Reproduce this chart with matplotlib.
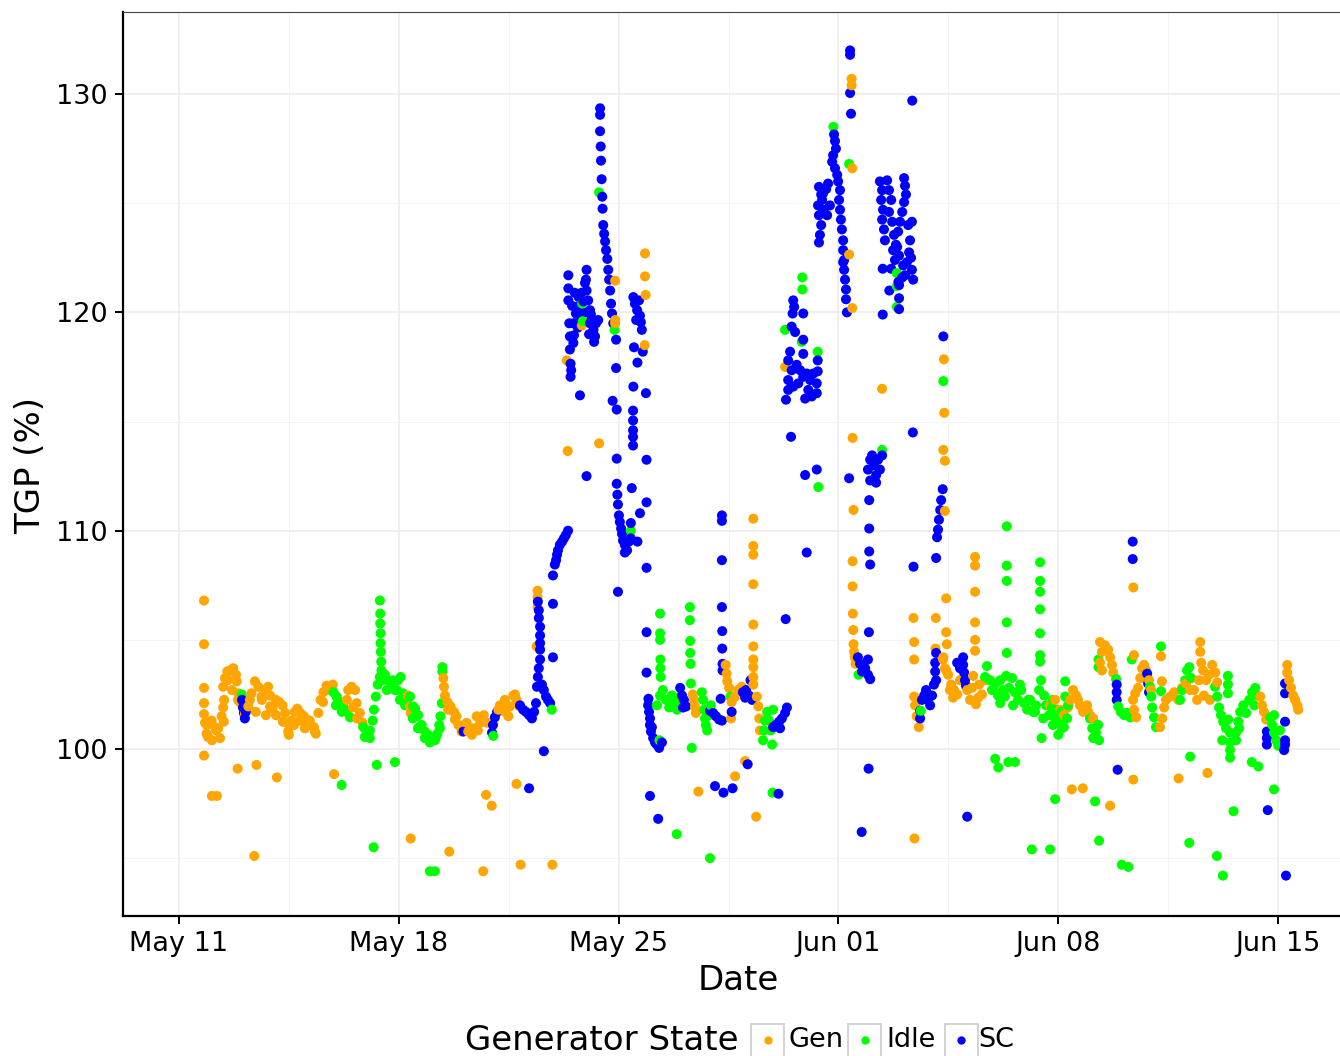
import numpy as np
import matplotlib
matplotlib.use("Agg")
import matplotlib.pyplot as plt
from matplotlib.patches import Rectangle
from matplotlib.lines import Line2D

# ---------------- data (days after May 11, TGP %) ----------------
states = ["Gen", "Idle", "SC"]
state_colors = ["#FFA500", "#00FF00", "#0000FF"]
date_ticks = [0, 7, 14, 21, 28, 35]
date_labels = ["May 11", "May 18", "May 25", "Jun 01", "Jun 08", "Jun 15"]
date_minor = [3.5, 10.5, 17.5, 24.5, 31.5]
tgp_ticks = [100, 110, 120, 130]
tgp_minor = [95, 105, 115, 125]

gen_day = [
    0.8, 0.8, 0.8, 0.8, 0.8, 0.8,
    0.83, 0.88, 0.93, 1.04, 1.15, 1.25, 1.36, 1.41, 1.44, 1.41, 1.47, 1.54, 1.62, 1.73, 1.82, 1.84, 1.89, 1.94,
    2.10, 2.21, 2.31, 2.42, 2.53, 2.63, 2.74, 2.84, 2.90, 2.98, 3.09, 3.19, 3.30, 3.38, 3.43, 3.48,
    3.59, 3.69, 3.77, 3.87, 3.98, 4.09, 4.19, 4.30, 4.36, 4.44, 4.51, 4.60, 4.70, 4.81,
    5.39, 5.50, 5.61, 5.66, 5.76, 5.85, 7.30, 7.36, 7.38,
    1.05, 1.21, 1.87, 2.47, 3.12, 2.40, 4.94, 7.38,
    8.42, 8.44, 8.47, 8.55, 8.65, 8.76, 8.84, 8.90, 9.0, 9.16, 9.21, 9.37, 9.48, 9.59, 9.71, 9.82,
    10.17, 10.28, 10.38, 10.49, 10.54, 10.65, 10.75, 10.84, 11.42, 11.42, 11.42, 11.39,
    8.61, 9.78, 9.96, 10.75, 9.69, 10.88, 11.89,
    12.35, 12.38, 13.38, 12.83, 13.89, 13.89, 13.89, 14.84, 14.84, 14.86, 14.83,
    16.36, 16.40, 16.43, 16.46, 17.41, 17.44, 17.46, 17.52, 17.55, 17.60, 17.58, 17.71, 17.81, 17.92,
    18.29, 18.29, 18.29, 18.29, 18.29, 18.29, 18.29, 18.29, 18.29, 18.29, 18.4, 18.45, 18.48, 18.5,
    18.03, 17.71, 16.54, 18.38,
    21.42, 21.42, 21.44, 21.34, 21.44, 19.3, 22.39, 21.45, 21.48, 24.36, 24.37, 24.34, 24.39, 24.39,
    21.45, 21.45, 21.46, 21.47, 21.48, 21.5, 21.52, 21.55,
    23.39, 23.41, 23.41, 23.41, 23.44, 23.49, 23.56, 24.1, 24.09, 24.43, 24.43, 24.45,
    24.34, 24.39, 24.49, 24.59, 24.68, 24.78, 24.87, 25.1, 25.19, 25.29, 25.38, 25.48, 25.57, 25.67,
    25.35, 25.35, 25.35, 25.35, 25.35, 25.35,
    23.42,
    27.74, 27.9, 28.06, 28.18,
    28.38, 28.47, 28.57, 28.69, 28.79, 28.92, 29.01, 29.11,
    29.33, 29.39, 29.33, 29.39, 29.49, 29.59, 29.65, 29.71, 29.75,
    30.38, 30.41, 30.48, 30.45, 30.54, 30.61, 30.67, 30.73, 30.8, 30.89, 30.96, 30.41,
    31.24, 31.31, 31.37, 31.43, 31.27, 31.3,
    31.56, 31.69, 31.82, 31.94, 32.07, 32.2,
    32.32, 32.42, 32.48, 32.52, 32.52, 32.55, 32.61, 32.71, 32.8, 32.9, 33.0, 33.06, 32.64, 32.83,
    34.43, 34.49, 34.55, 34.62,
    35.29, 35.29, 35.35, 35.41, 35.48, 35.54, 35.61, 35.64,
    30.39, 30.39, 31.83, 32.75, 28.43, 28.78, 29.65,
    0.89, 1.05, 1.18, 1.31, 1.43, 1.56, 1.69, 1.88, 2.26, 2.45, 2.64, 2.77, 2.9, 3.09, 3.31, 3.5,
    3.66, 3.85, 4.01, 4.17, 4.33, 4.59, 4.71, 4.9, 5.35, 5.54, 5.67,
    8.57, 8.79, 9.01, 9.33, 9.52, 9.71, 10.22, 10.38, 10.7,
    24.33, 24.43, 24.55, 24.65, 25.25, 25.45, 28.31, 28.63, 28.95,
]
gen_tgp = [
    106.8, 104.8, 102.8, 102.1, 101.6, 99.7,
    101.2, 100.7, 100.55, 101.3, 101.0, 100.95, 101.5, 101.9, 102.25, 102.85, 103.25, 103.55, 103.6, 103.7, 103.4, 103.1, 102.55, 102.15,
    101.6, 101.95, 102.55, 103.1, 102.85, 102.4, 102.7, 102.85, 102.45, 101.85, 102.25, 102.15, 102.0, 101.65, 101.2, 100.8,
    101.3, 101.7, 101.85, 101.65, 101.5, 101.25, 101.1, 101.0, 100.7, 101.65, 102.25, 102.6, 102.9, 102.8,
    102.7, 102.85, 102.7, 102.1, 101.65, 101.2, 102.45, 101.95, 101.65,
    97.85, 97.85, 99.1, 99.27, 98.7, 95.1, 98.85, 95.9,
    103.25, 102.85, 102.45, 102.15, 101.95, 101.7, 101.5, 101.1, 100.8, 101.2, 100.8, 100.95, 101.5, 101.2, 101.55, 101.2,
    101.8, 101.95, 101.7, 101.5, 101.95, 102.45, 102.25, 101.95, 107.25, 106.95, 106.5, 104.7,
    95.3, 97.9, 97.4, 98.4, 94.4, 94.7, 94.7,
    117.8, 113.65, 114.0, 119.4, 121.45, 119.65, 119.5, 122.7, 121.65, 120.8, 118.5,
    102.5, 102.25, 101.95, 101.65, 103.85, 103.45, 103.1, 102.8, 102.4, 102.15, 101.4, 102.4, 102.7, 102.85,
    110.55, 109.3, 108.9, 107.55, 105.7, 104.7, 104.1, 103.75, 103.3, 102.95, 102.4, 101.95, 101.4, 100.85,
    99.45, 98.75, 98.05, 96.9,
    130.7, 130.4, 126.6, 122.65, 120.2, 117.5, 116.5, 114.25, 110.95, 117.85, 115.4, 113.7, 113.2, 110.9,
    108.6, 107.45, 106.2, 105.45, 104.8, 104.45, 104.2, 103.9,
    106.0, 104.9, 104.1, 102.4, 102.0, 101.5, 101.0, 106.0, 104.6, 106.9, 105.35, 104.8,
    104.2, 103.7, 103.4, 102.95, 102.7, 102.5, 103.15, 102.7, 102.25, 103.35, 102.05, 102.95, 102.5, 103.15,
    108.8, 108.4, 107.2, 105.8, 105.0, 104.5,
    95.9,
    102.0, 102.25, 101.8, 101.55,
    102.25, 102.7, 102.45, 102.0, 101.7, 102.0, 101.55, 101.4,
    104.9, 104.45, 103.95, 103.6, 104.75, 104.55, 104.2, 103.85, 103.5,
    102.25, 101.8, 101.45, 102.55, 102.8, 103.25, 103.7, 103.85, 103.6, 103.15, 102.7, 104.3,
    101.0, 101.4, 101.9, 102.25, 104.25, 103.1,
    102.4, 102.6, 102.25, 102.8, 103.0, 102.7,
    102.7, 102.25, 103.15, 104.9, 104.45, 103.95, 103.6, 103.15, 103.4, 103.85, 103.5, 103.05, 102.45, 102.25,
    102.4, 102.0, 101.7, 101.35,
    103.85, 103.5, 103.15, 102.8, 102.45, 102.25, 102.0, 101.8,
    107.4, 98.6, 98.65, 98.9, 98.15, 98.2, 97.4,
    101.1, 100.4, 100.85, 100.5, 101.25, 103.15, 102.7, 102.25, 102.25, 101.7, 102.25, 101.55, 101.95, 101.55, 101.25, 100.65,
    101.1, 101.3, 100.95, 101.3, 100.8, 102.15, 102.7, 102.95, 102.25, 101.9, 101.4,
    101.8, 101.35, 100.95, 100.65, 100.85, 101.25, 102.0, 102.25, 102.5,
    104.1, 103.6, 102.7, 102.35, 102.8, 102.35, 101.9, 102.25, 101.7,
]

idle_day = [
    2.0, 4.92, 5.02, 5.13, 5.23, 5.34, 5.87, 5.98, 6.08, 6.17, 6.21, 6.27, 6.33, 6.4,
    6.4, 6.41, 6.41, 6.42, 6.42, 6.43, 6.44, 6.45,
    6.56, 6.67, 6.77, 6.88, 6.98, 7.06, 7.14, 7.25, 7.46, 7.57, 7.65,
    5.18, 6.3, 6.88, 6.2,
    7.36, 7.52, 7.62, 7.73, 7.83, 7.94, 8.05, 8.15, 8.23, 8.29, 8.33, 8.37, 8.39, 8.39,
    10.01, 11.87, 7.99, 8.15,
    13.38, 12.84, 12.86, 13.87, 14.39,
    15.32, 15.32, 15.32, 15.33, 15.33, 15.34,
    15.3, 15.22, 15.32, 15.41, 15.51, 15.61, 15.7, 15.8, 15.86, 15.96,
    16.27, 16.27, 16.28, 16.28, 16.29, 16.3,
    16.65, 16.69, 16.72, 16.75, 16.78, 16.82, 16.88, 16.94, 17.58,
    18.6, 18.63, 18.66, 18.73, 18.79, 18.85, 18.89, 18.92, 16.33,
    18.9, 15.85, 16.91,
    20.84, 21.34, 19.85, 19.85, 19.3, 20.34, 20.36, 22.86, 22.86, 22.86, 22.39, 24.34, 19.83,
    21.64, 23.62,
    25.73, 25.83, 25.89, 25.99, 26.08, 26.15, 26.24, 26.34, 26.43, 26.53, 26.62, 26.72, 26.82, 26.91,
    27.01, 27.1, 27.2, 27.29, 27.39, 27.45, 27.55, 27.61, 27.71, 27.8, 27.9, 28.0, 28.09,
    26.36, 26.36, 26.36, 26.36, 26.36,
    27.42, 27.42, 27.42, 27.42, 27.42, 27.42, 27.42,
    27.47, 25.99, 26.09, 26.41, 26.62, 27.9, 27.16, 27.74,
    27.83, 27.96, 28.09, 28.18, 28.28, 28.31, 28.22, 28.22,
    29.01, 29.08, 29.11, 29.2, 29.27, 29.3, 29.28, 29.28, 29.84,
    29.91, 29.99, 30.1, 30.19, 30.29, 30.34,
    30.92, 30.96, 30.99, 31.05, 31.11, 31.27, 31.27,
    31.88, 31.94, 32.04, 32.1, 32.17, 32.23,
    32.99, 33.06, 33.12, 33.18, 33.25, 33.34, 33.41, 33.4, 33.4, 33.4,
    33.47, 33.47, 33.47, 33.47,
    33.66, 33.73, 33.79, 33.89, 33.98, 34.08, 34.17, 34.27, 34.33, 34.24,
    34.75, 34.81, 34.87, 34.94, 35.0, 35.06, 34.87,
    32.2, 34.16, 34.37, 29.17, 34.87, 33.58, 29.3, 30.02, 30.23, 32.17, 33.05, 33.24,
    5.0, 5.19, 5.45, 5.92, 6.08, 6.5, 6.62, 6.82, 6.94, 7.04,
    7.2, 7.45, 7.61, 7.83, 7.99, 8.18, 8.31,
    25.67, 25.92, 26.15, 26.3, 26.56, 26.78, 27.04, 27.26, 27.52, 27.83, 28.0, 28.12,
    33.22, 33.66, 33.76,
]
idle_tgp = [
    102.5, 102.6, 102.4, 102.15, 101.95, 101.7, 101.0, 100.8, 100.85, 101.3, 101.8, 102.4, 102.95, 103.3,
    106.8, 106.2, 105.75, 105.3, 104.85, 104.45, 104.0, 103.6,
    103.4, 103.15, 102.95, 102.7, 103.15, 103.3, 102.55, 102.1, 101.95, 101.5, 101.0,
    98.35, 99.27, 99.4, 95.5,
    102.4, 101.85, 101.55, 101.1, 100.8, 100.65, 100.4, 100.4, 100.7, 101.1, 101.5, 102.1, 103.75, 103.55,
    100.6, 101.8, 94.4, 94.4,
    125.5, 120.4, 119.6, 119.2, 110.0,
    106.2, 105.3, 105.0, 104.1, 103.7, 103.3,
    100.4, 102.0, 102.45, 102.7, 102.25, 101.9, 102.45, 102.1, 101.8, 102.4,
    106.5, 105.9, 104.95, 104.4, 103.9, 103.0,
    102.6, 102.25, 101.8, 101.4, 101.1, 100.85, 101.55, 102.0, 102.4,
    100.4, 100.85, 101.3, 101.7, 101.3, 100.85, 100.2, 101.8, 100.05,
    98.0, 96.1, 95.0,
    128.5, 126.8, 121.6, 121.05, 119.2, 118.2, 112.0, 121.8, 121.2, 120.25, 113.7, 116.85, 118.65,
    103.4, 101.75,
    103.8, 103.15, 102.7, 103.0, 102.45, 102.1, 102.7, 103.35, 102.8, 103.25, 102.6, 102.25, 102.7, 102.1,
    101.8, 102.25, 101.7, 102.0, 102.7, 103.15, 102.45, 102.0, 101.55, 101.9, 101.4, 101.3, 101.7,
    110.2, 108.4, 107.7, 105.8, 104.4,
    108.55, 107.7, 107.2, 106.4, 105.3, 104.3, 104.0,
    100.5, 99.55, 99.15, 99.4, 99.4, 97.7, 95.4, 95.4,
    102.25, 101.8, 101.25, 101.0, 101.4, 102.0, 103.1, 102.4,
    101.4, 100.95, 100.5, 100.75, 101.1, 100.4, 104.1, 103.75, 103.2,
    101.95, 101.7, 101.55, 101.65, 101.45, 104.1,
    102.85, 102.4, 101.9, 101.45, 101.0, 104.7, 102.65,
    102.25, 102.7, 103.15, 103.6, 103.75, 103.25,
    102.85, 102.4, 101.9, 101.55, 101.25, 100.95, 101.35, 103.35, 102.95, 102.55,
    100.75, 100.3, 99.95, 99.6,
    100.75, 101.25, 101.7, 102.0, 101.65, 102.25, 102.6, 102.8, 102.45, 102.0,
    101.45, 101.1, 100.75, 100.4, 100.15, 100.85, 101.55,
    99.65, 99.4, 99.2, 97.6, 98.15, 97.15, 95.8, 94.7, 94.6, 95.7, 95.1, 94.2,
    102.0, 101.7, 101.45, 100.55, 100.5, 103.15, 102.7, 103.15, 102.7, 102.25,
    102.0, 101.4, 100.95, 100.5, 100.3, 100.5, 100.95,
    103.3, 102.7, 103.15, 102.4, 102.0, 102.95, 102.25, 101.7, 101.4, 101.1, 100.65, 100.95,
    100.4, 100.4, 100.95,
]

sc_day = [
    2.01, 2.04, 2.07, 2.1, 2.13,
    9.06, 9.97, 10.0, 10.06, 10.13,
    10.86, 10.96, 11.05, 11.15, 11.24, 11.31, 11.37,
    11.4, 11.43, 11.46, 11.5, 11.5, 11.5, 11.5, 11.5, 11.46, 11.46, 11.43,
    11.56, 11.62, 11.69, 11.75, 11.82, 11.91, 11.91, 11.62, 11.15,
    11.91, 11.97, 12.01, 12.04, 12.07, 12.13, 12.2, 12.26, 12.32, 12.39,
    12.4, 12.4, 12.4, 12.43, 12.45, 12.45, 12.47, 12.47, 12.49, 12.56, 12.58, 12.61, 12.64, 12.68, 12.73, 12.77,
    12.82, 12.93, 12.98, 12.96, 12.98, 13.03, 13.09, 13.14, 13.2, 13.22, 13.28, 13.35, 13.09, 12.56, 12.77, 12.98,
    12.52, 12.6, 12.7, 12.8, 12.88, 13.0, 13.06, 13.12, 13.18, 13.25,
    13.41, 13.41, 13.41, 13.43, 13.44, 13.46, 13.48, 13.49, 13.51, 13.54, 13.57, 13.6, 13.64, 13.67, 13.7, 13.73, 13.76, 13.79, 13.83,
    13.92, 13.92, 13.81, 13.94, 13.94,
    13.94, 13.96, 13.98, 14.01, 14.04, 14.08, 14.11, 14.14, 14.2, 14.27, 14.2, 14.33, 14.39, 13.98, 14.39, 14.42,
    14.68, 14.6, 14.89, 14.89, 14.89, 14.87, 14.47, 14.6, 14.49,
    14.47, 14.52, 14.59, 14.65, 14.68, 14.71, 14.74, 14.56, 14.77,
    14.46, 14.46, 14.46, 14.46, 14.46,
    14.89, 14.89, 14.95,
    14.94, 14.97, 15.0, 15.0, 15.03, 15.1, 15.16, 15.22, 15.29, 15.38, 15.06,
    15.96, 16.02, 16.08, 16.15, 16.05,
    17.29, 17.29, 17.29, 17.29, 17.3, 17.3, 17.31, 17.31,
    16.91, 17.01, 17.1, 17.2, 17.29, 17.25, 17.6,
    17.96, 18.06, 18.15, 18.25, 18.03, 18.2,
    18.92, 19.01, 19.11, 19.2, 19.3, 19.36, 19.14, 19.32, 19.99,
    18.11, 17.07, 17.34, 17.63, 19.09, 15.0, 15.26,
    21.37, 21.37, 21.37, 21.4,
    20.86, 20.89, 20.92, 20.83, 20.8, 20.89, 20.96, 20.99, 21.05, 21.02,
    20.38, 20.45, 20.35, 20.38, 20.45, 20.41, 20.38, 20.51, 20.61, 20.67, 20.54, 20.64, 20.73, 20.48,
    21.05, 21.08, 21.11, 21.15, 21.15, 21.18, 21.18, 21.21, 21.24, 21.24, 21.27, 21.15,
    22.32, 22.39, 22.36, 22.42, 22.39, 22.45, 22.48, 22.55, 22.61, 22.68, 22.61, 22.71, 22.77, 22.83,
    22.9, 22.96, 23.03, 23.09, 23.09, 23.12, 23.15, 23.22, 23.28, 23.34, 23.25, 23.18, 23.12, 23.06,
    22.93, 22.8, 22.74, 22.68, 22.87, 23.31, 23.34, 23.38, 22.93, 23.03,
    23.35, 22.41, 22.41, 22.62, 22.93, 22.91, 22.93,
    19.56, 19.59, 19.54, 19.88, 19.51, 19.62, 19.88, 19.88, 20.34, 19.46,
    19.4, 19.51, 19.67, 19.78, 19.88, 19.99, 20.1, 20.2, 20.31, 20.34,
    20.31, 19.94, 19.4, 19.4, 19.33, 19.56, 19.72, 20.04, 20.15,
    19.49, 19.94, 20.31, 21.34, 21.98, 21.98, 21.98,
    21.94, 22.01, 22.07, 22.13, 22.2, 22.26, 22.32, 22.39, 22.2, 22.01,
    23.37, 24.34, 24.32, 24.27, 24.24, 24.2, 24.17, 24.14, 24.11,
    21.97, 22.01, 21.62, 21.69, 21.75, 21.85, 21.94, 21.94, 22.01, 23.39,
    23.6, 23.66, 23.73, 23.79, 23.85, 23.92, 23.98, 24.04, 24.11, 24.08, 24.08, 24.11, 23.6,
    24.97, 24.97, 25.0, 25.03, 25.06, 24.78, 24.87,
    21.96, 21.74, 25.1,
    29.86, 29.86, 29.86, 30.83, 30.86, 30.89, 30.37, 30.37,
    34.64, 34.64, 34.64, 35.22, 35.22, 35.22, 35.19, 35.22, 35.22,
    29.89, 34.67, 35.25,
]
sc_tgp = [
    102.25, 101.9, 101.65, 101.4, 101.7,
    100.8, 100.75, 101.1, 101.45, 101.7,
    102.0, 101.8, 101.7, 101.55, 101.4, 101.7, 102.1,
    102.85, 103.3, 103.7, 104.1, 104.55, 104.85, 105.2, 105.6, 106.0, 106.35, 106.75,
    102.95, 102.7, 102.4, 102.25, 102.1, 106.65, 104.2, 99.9, 98.2,
    107.95, 108.45, 108.65, 108.9, 109.1, 109.35, 109.5, 109.65, 109.8, 110.0,
    121.7, 121.1, 120.55, 119.5, 118.9, 118.3, 117.65, 117.05, 117.35, 118.6, 118.95, 119.5, 119.95, 120.25, 120.7, 120.1,
    120.9, 121.35, 121.95, 121.5, 121.0, 120.55, 120.1, 119.65, 119.2, 118.65, 119.5, 119.65, 119.5, 119.5, 116.2, 112.5,
    120.3, 120.9, 119.3, 119.8, 120.5, 120.0, 119.0, 119.9, 119.0, 118.9,
    129.35, 129.05, 128.3, 127.6, 126.95, 126.1, 125.3, 124.75, 124.0, 123.6, 123.25, 122.85, 122.45, 121.95, 121.5, 121.0, 120.4, 119.95, 119.5,
    118.75, 117.45, 115.95, 115.55, 113.3,
    112.15, 111.65, 111.2, 110.7, 110.4, 110.1, 109.85, 109.55, 109.35, 109.1, 109.0, 109.5, 109.65, 107.2, 110.35, 111.95,
    110.8, 109.5, 111.3, 113.25, 108.3, 116.3, 116.6, 117.7, 118.4,
    120.7, 120.4, 120.1, 120.55, 119.85, 119.55, 119.2, 119.65, 118.2,
    115.5, 115.05, 114.6, 114.3, 113.9,
    105.35, 103.5, 102.3,
    102.0, 101.7, 101.4, 101.1, 100.8, 100.5, 100.3, 100.2, 100.05, 100.3, 101.0,
    102.8, 102.45, 102.25, 101.95, 101.9,
    110.7, 110.45, 108.65, 106.5, 105.4, 104.6, 103.9, 103.6,
    101.75, 101.65, 101.5, 101.35, 101.3, 102.3, 101.7,
    102.6, 102.7, 102.45, 102.25, 102.35, 103.15,
    101.0, 101.1, 101.25, 101.4, 101.65, 101.9, 100.95, 105.95, 109.0,
    99.3, 98.3, 98.0, 98.2, 97.95, 97.85, 96.8,
    132.0, 131.8, 130.05, 129.1,
    128.15, 127.85, 127.5, 127.2, 126.9, 126.6, 126.3, 126.0, 125.6, 125.15,
    125.75, 125.4, 124.9, 124.45, 124.0, 123.55, 123.2, 125.45, 125.65, 125.9, 124.7, 124.45, 124.9, 125.15,
    124.7, 124.25, 123.8, 123.3, 122.85, 122.4, 121.95, 121.5, 121.05, 120.6, 120.0, 122.3,
    126.0, 125.6, 125.15, 124.7, 124.25, 123.8, 123.3, 126.05, 125.6, 125.15, 124.6, 124.15, 123.55, 123.1,
    123.7, 124.15, 124.6, 125.05, 126.15, 125.8, 125.4, 124.0, 123.3, 124.15, 122.75, 122.3, 121.7, 122.15,
    122.6, 122.4, 122.85, 122.0, 123.0, 122.5, 121.95, 121.5, 121.25, 121.6,
    129.7, 122.0, 119.9, 121.0, 120.15, 121.4, 120.65,
    120.55, 120.25, 119.95, 119.95, 119.35, 119.1, 118.75, 118.1, 117.8, 118.2,
    117.8, 117.35, 117.6, 117.35, 117.05, 117.2, 116.9, 117.2, 116.75, 117.3,
    116.3, 116.05, 116.9, 116.45, 116.0, 116.6, 116.75, 116.45, 116.15,
    114.3, 112.55, 112.8, 112.4, 111.4, 110.1, 109.05,
    112.8, 113.25, 113.45, 113.0, 112.55, 113.25, 112.8, 113.45, 112.2, 112.3,
    114.5, 118.9, 111.9, 111.4, 110.95, 110.5, 110.05, 109.7, 108.75,
    105.35, 108.45, 104.2, 103.9, 103.55, 103.7, 104.1, 103.4, 103.2, 108.35,
    101.75, 102.25, 102.45, 102.7, 102.25, 102.0, 102.45, 102.95, 103.15, 103.55, 103.95, 104.4, 101.4,
    104.2, 103.85, 103.5, 103.15, 102.9, 103.95, 103.7,
    99.1, 96.2, 96.9,
    102.95, 102.25, 102.6, 103.45, 103.0, 102.6, 109.5, 108.7,
    100.8, 100.5, 100.2, 101.25, 100.4, 100.2, 99.95, 103.0, 102.55,
    99.05, 97.2, 94.2,
]

series = [(gen_day, gen_tgp), (idle_day, idle_tgp), (sc_day, sc_tgp)]
for name, (d, v) in zip(states, series):
    if len(d) != len(v):
        raise ValueError(f"{name}: {len(d)} days vs {len(v)} values")

# ---------------- figure ----------------
W, H = 1340, 1056
fig = plt.figure(figsize=(W / 100, H / 100), dpi=100)
fig.patch.set_facecolor("white")
ax = fig.add_axes([123 / W, 1 - 916 / H, (1340 - 123) / W, (916 - 12) / H])

all_day = np.concatenate([np.asarray(d, float) for d, _ in series])
all_val = np.concatenate([np.asarray(v, float) for _, v in series])
all_col = np.concatenate([[c] * len(d) for c, (d, _) in zip(state_colors, series)])
order = np.argsort(all_day, kind="stable")
ax.scatter(all_day[order], all_val[order], c=all_col[order], s=52,
           linewidths=0, zorder=3)

ax.set_xlim(-1.78, 36.97)
ax.set_ylim(92.35, 133.76)
ax.set_xticks(date_ticks)
ax.set_xticklabels(date_labels)
ax.set_xticks(date_minor, minor=True)
ax.set_yticks(tgp_ticks)
ax.set_yticks(tgp_minor, minor=True)
ax.set_axisbelow(True)
ax.grid(which="major", color="#EBEBEB", linewidth=1.1)
ax.grid(which="minor", color="#F3F3F3", linewidth=0.6)
ax.tick_params(which="major", length=6, width=1.4, color="black",
               labelsize=19.5, labelcolor="black", pad=5)
ax.tick_params(which="minor", length=0)

for side in ("left", "bottom"):
    ax.spines[side].set_linewidth(1.6)
    ax.spines[side].set_color("black")
ax.spines["top"].set_linewidth(0.8)
ax.spines["top"].set_color("#444444")
ax.spines["right"].set_visible(False)

ax.set_xlabel("Date", fontsize=24.5)
ax.xaxis.set_label_coords((738 - 123) / 1217, (916 - 980) / 904)
ax.xaxis.label.set_va("center")
ax.set_ylabel("TGP (%)", fontsize=24.5)
ax.yaxis.set_label_coords((31 - 123) / 1217, (916 - 465) / 904)
ax.yaxis.label.set_va("center")

# ---------------- legend (horizontal, title on the left) ----------------
ly = 1 - 1040 / H
fig.text(465 / W, ly, "Generator State", fontsize=24.5, va="center", ha="left")
key_x = [751, 848, 945]
lab_x = [789, 886, 978]
for st, col, kx, tx in zip(states, state_colors, key_x, lab_x):
    fig.patches.append(Rectangle((kx / W, 1 - 1058 / H), 33 / W, 34 / H,
                                 transform=fig.transFigure, facecolor="white",
                                 edgecolor="#CCCCCC", linewidth=1.2))
    fig.lines.append(Line2D([(kx + 16.5) / W], [ly], marker="o", markersize=6,
                            markerfacecolor=col, markeredgewidth=0,
                            linestyle="none", transform=fig.transFigure))
    fig.text(tx / W, ly, st, fontsize=19.5, va="center", ha="left")

fig.savefig("out.png", dpi=100)
